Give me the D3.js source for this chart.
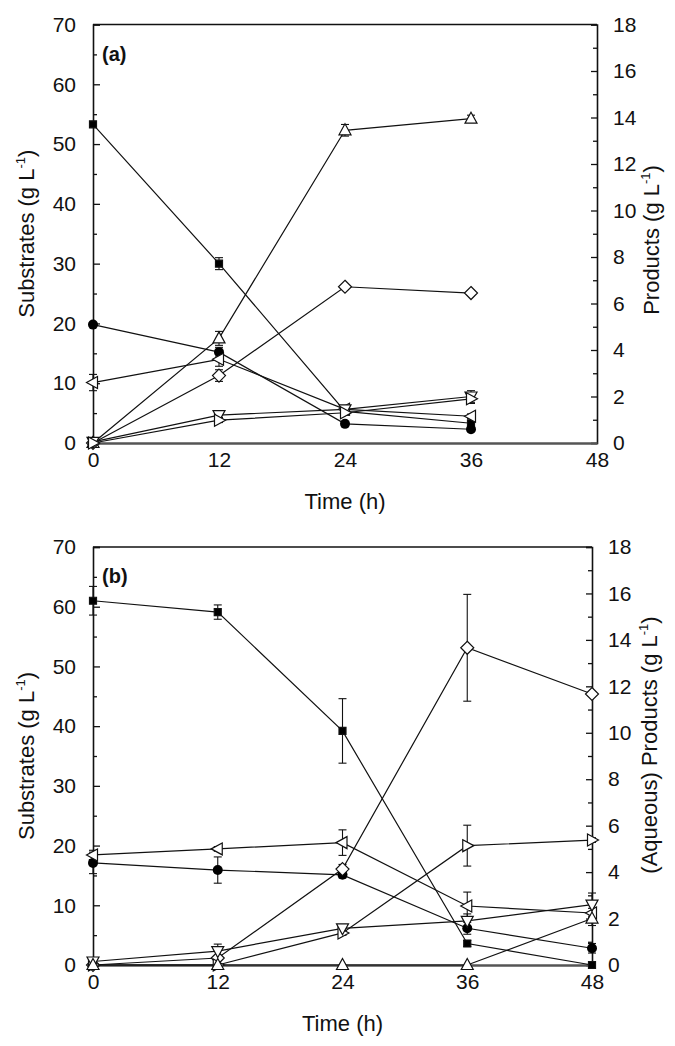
<!DOCTYPE html>
<html><head><meta charset="utf-8">
<script src="https://cdn.jsdelivr.net/npm/d3@7"></script>
<style>body{margin:0;background:#fff} text{font-family:"Liberation Sans",Arial,sans-serif;fill:#111}</style>
</head><body><svg id="c" width="675" height="1046"></svg>
<script>
// ---------- data ----------
const xTickVals = [0, 12, 24, 36, 48];
const leftTickVals = [0, 10, 20, 30, 40, 50, 60, 70];
const rightTickVals = [0, 2, 4, 6, 8, 10, 12, 14, 16, 18];

// Panel (a)
const timeA = [0, 12, 24, 36];
const squareA = [53.3, 30.0, 5.3, 3.3];      const squareErrA = [0.4, 1.0, 0.4, 0.4];   // substrate (left axis)
const circleA = [19.8, 15.2, 3.2, 2.3];      const circleErrA = [0.3, 0.8, 0.3, 0.3];   // substrate (left axis)
const upTriA = [0, 4.5, 13.45, 13.95];       const upTriErrA = [0.05, 0.3, 0.25, 0.15]; // product (right axis)
const diamondA = [0, 2.9, 6.72, 6.45];       const diamondErrA = [0.05, 0.25, 0.1, 0.1];
const leftTriA = [2.6, 3.6, 1.45, 1.15];     const leftTriErrA = [0.35, 0.3, 0.1, 0.1];
const downTriA = [0.05, 1.2, 1.45, 2.0];     const downTriErrA = [0.05, 0.1, 0.1, 0.25];
const rightTriA = [0, 0.98, 1.3, 1.9];       const rightTriErrA = [0.05, 0.1, 0.1, 0.2];

// Panel (b)
const timeB = [0, 12, 24, 36, 48];
const squareB = [61.0, 59.1, 39.2, 3.6, 0];      const squareErrB = [2.4, 1.2, 5.4, 0.5, 0.2];
const circleB = [17.1, 15.9, 15.1, 6.15, 2.8];   const circleErrB = [1.8, 2.2, 0.5, 1.0, 0.8];
const leftTriB = [4.74, 5.0, 5.27, 2.54, 2.24];  const leftTriErrB = [0.2, 0.1, 0.55, 0.6, 0.2];
const diamondB = [0, 0.3, 4.13, 13.66, 11.67];   const diamondErrB = [0, 0.1, 0.2, 2.3, 0.1];
const rightTriB = [0, 0, 1.38, 5.14, 5.38];      const rightTriErrB = [0, 0, 0.1, 0.88, 0.1];
const downTriB = [0.15, 0.6, 1.58, 1.9, 2.6];    const downTriErrB = [0.05, 0.3, 0.1, 0.3, 0.5];
const upTriB = [0, 0, 0, 0, 2.0];                const upTriErrB = [0, 0, 0, 0, 0.3];

// ---------- drawing ----------
const svg = d3.select("#c");
const shapes = {
  square: "M-3.5,-3.5h7v7h-7z",
  up: "M0,-6.5L6,4.5L-6,4.5Z",
  down: "M0,6.5L6,-4.5L-6,-4.5Z",
  left: "M-6.5,0L4.5,-6L4.5,6Z",
  right: "M6.5,0L-4.5,-6L-4.5,6Z",
  diamond: "M0,-6.5L6.5,0L0,6.5L-6.5,0Z"
};

function drawPanel(p) {
  const g = svg.append("g");
  const x = d3.scaleLinear().domain([0, 48]).range([p.x0, p.x1]);
  const yL = d3.scaleLinear().domain([0, 70]).range([p.yB, p.yT]);
  const yR = d3.scaleLinear().domain([0, 18]).range([p.yB, p.yT]);

  // frame top
  g.append("line").attr("x1", p.x0).attr("x2", p.x1).attr("y1", p.yT).attr("y2", p.yT)
    .attr("stroke", "#111").attr("stroke-width", 1.3);

  // left axis
  const la = g.append("g").attr("transform", `translate(${p.x0},0)`)
    .call(d3.axisLeft(yL).tickValues(leftTickVals).tickSize(-7).tickPadding(17).tickFormat(d3.format("d")));
  la.select(".domain").attr("stroke", "#111").attr("stroke-width", 1.6);
  la.selectAll(".tick line").attr("stroke", "#111").attr("stroke-width", 1.3);
  la.selectAll("text").attr("font-size", 21).attr("fill", "#111").attr("font-family", null);
  g.append("g").attr("transform", `translate(${p.x0},0)`)
    .call(d3.axisLeft(yL).tickValues(d3.range(5, 70, 10)).tickSize(-4).tickFormat(""))
    .call(s => { s.select(".domain").remove(); s.selectAll("line").attr("stroke", "#111").attr("stroke-width", 1.3); });

  // right axis
  const ra = g.append("g").attr("transform", `translate(${p.x1},0)`)
    .call(d3.axisRight(yR).tickValues(rightTickVals).tickSize(-6).tickPadding(16).tickFormat(d3.format("d")));
  ra.select(".domain").attr("stroke", "#111").attr("stroke-width", 1.6);
  ra.selectAll(".tick line").attr("stroke", "#111").attr("stroke-width", 1.3);
  ra.selectAll("text").attr("font-size", 21).attr("fill", "#111").attr("font-family", null);
  g.append("g").attr("transform", `translate(${p.x1},0)`)
    .call(d3.axisRight(yR).tickValues(d3.range(1, 18, 2)).tickSize(-4).tickFormat(""))
    .call(s => { s.select(".domain").remove(); s.selectAll("line").attr("stroke", "#111").attr("stroke-width", 1.3); });

  // bottom axis
  const ba = g.append("g").attr("transform", `translate(0,${p.yB})`)
    .call(d3.axisBottom(x).tickValues(xTickVals).tickSize(0).tickPadding(9).tickFormat(d3.format("d")));
  ba.select(".domain").attr("stroke", "#555").attr("stroke-width", 2.4);
  ba.selectAll("text").attr("font-size", 21).attr("fill", "#111").attr("font-family", null);

  // series
  p.series.forEach(s => {
    const y = s.axis === "L" ? yL : yR;
    const pts = p.time.map((t, i) => ({ t, v: s.v[i], e: s.e[i] }));
    g.append("path").datum(pts)
      .attr("d", d3.line().x(d => x(d.t)).y(d => y(d.v)))
      .attr("fill", "none").attr("stroke", "#111").attr("stroke-width", 1.2);
    pts.filter(d => d.e > 0).forEach(d => {
      const cx = x(d.t), y1 = y(d.v - d.e), y2 = y(d.v + d.e);
      g.append("line").attr("x1", cx).attr("x2", cx).attr("y1", y1).attr("y2", y2).attr("stroke", "#111").attr("stroke-width", 1.1);
      [y1, y2].forEach(yy => g.append("line").attr("x1", cx - 4).attr("x2", cx + 4).attr("y1", yy).attr("y2", yy).attr("stroke", "#111").attr("stroke-width", 1.1));
    });
  });
  p.series.forEach(s => {
    const y = s.axis === "L" ? yL : yR;
    p.time.forEach((t, i) => {
      if (s.shape === "circle") {
        g.append("circle").attr("cx", x(t)).attr("cy", y(s.v[i])).attr("r", 5).attr("fill", "#000");
      } else {
        g.append("path").attr("d", shapes[s.shape])
          .attr("transform", `translate(${x(t)},${y(s.v[i])})`)
          .attr("fill", s.filled ? "#000" : "#fff").attr("stroke", "#111").attr("stroke-width", 1.2);
      }
    });
  });

  // labels
  g.append("text").attr("x", p.x0 + 9).attr("y", p.yT + 36).attr("font-size", 20).attr("font-weight", "bold").text(p.tag);
  g.append("text").attr("x", (p.x0 + p.x1) / 2).attr("y", p.yB + 66).attr("text-anchor", "middle").attr("font-size", 22).text("Time (h)");
  const lt = g.append("text").attr("transform", `translate(34,${(p.yT + p.yB) / 2}) rotate(-90)`).attr("text-anchor", "middle").attr("font-size", 22);
  lt.append("tspan").text("Substrates (g L");
  lt.append("tspan").attr("font-size", 13).attr("dy", -9).text("-1");
  lt.append("tspan").attr("dy", 9).text(")");
  const rt = g.append("text").attr("transform", `translate(${p.rtX},${p.rtY}) rotate(-90)`).attr("text-anchor", "middle").attr("font-size", 22);
  rt.append("tspan").text(p.rightTitle);
  rt.append("tspan").attr("font-size", 13).attr("dy", -9).text("-1");
  rt.append("tspan").attr("dy", 9).text(")");
}

drawPanel({
  x0: 93, x1: 597, yT: 24.5, yB: 443, tag: "(a)", time: timeA,
  rightTitle: "Products (g L", rtX: 659, rtY: 240,
  series: [
    { v: squareA, e: squareErrA, axis: "L", shape: "square", filled: true },
    { v: circleA, e: circleErrA, axis: "L", shape: "circle", filled: true },
    { v: upTriA, e: upTriErrA, axis: "R", shape: "up" },
    { v: diamondA, e: diamondErrA, axis: "R", shape: "diamond" },
    { v: leftTriA, e: leftTriErrA, axis: "R", shape: "left" },
    { v: downTriA, e: downTriErrA, axis: "R", shape: "down" },
    { v: rightTriA, e: rightTriErrA, axis: "R", shape: "right" }
  ]
});
drawPanel({
  x0: 93, x1: 592, yT: 547, yB: 965, tag: "(b)", time: timeB,
  rightTitle: "(Aqueous) Products  (g L", rtX: 657, rtY: 745,
  series: [
    { v: squareB, e: squareErrB, axis: "L", shape: "square", filled: true },
    { v: circleB, e: circleErrB, axis: "L", shape: "circle", filled: true },
    { v: leftTriB, e: leftTriErrB, axis: "R", shape: "left" },
    { v: diamondB, e: diamondErrB, axis: "R", shape: "diamond" },
    { v: rightTriB, e: rightTriErrB, axis: "R", shape: "right" },
    { v: downTriB, e: downTriErrB, axis: "R", shape: "down" },
    { v: upTriB, e: upTriErrB, axis: "R", shape: "up" }
  ]
});
</script></body></html>
